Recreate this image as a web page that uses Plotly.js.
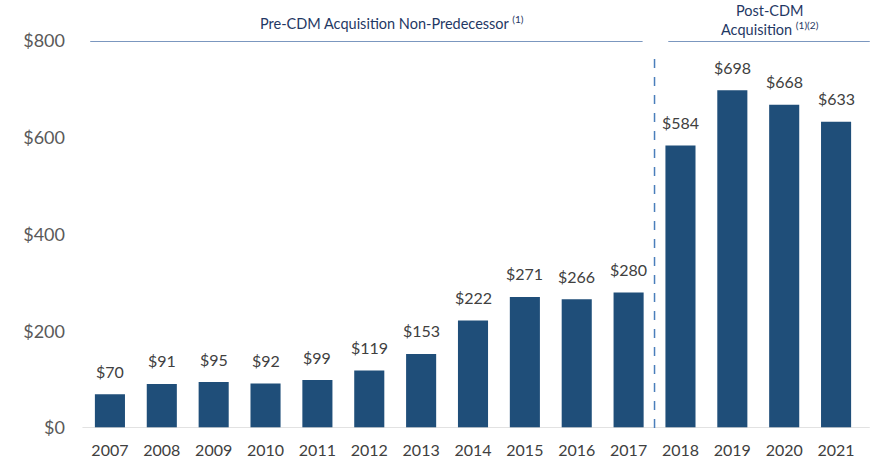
<!DOCTYPE html>
<html><head><meta charset="utf-8">
<script src="https://cdn.plot.ly/plotly-3.0.1.min.js"></script>
<style>body{margin:0;background:#fff}#c{width:875px;height:459px}</style>
</head><body><div id="c"></div>
<script>
const years = ["2007","2008","2009","2010","2011","2012","2013","2014","2015","2016","2017","2018","2019","2020","2021"];
const values = [70,91,95,92,99,119,153,222,271,266,280,584,698,668,633];
const yTicks = [0,200,400,600,800];
const yTickText = ["$0","$200","$400","$600","$800"];

const font = "Lato, 'Liberation Sans', sans-serif";
const trace = {
  type:'bar', x: years, y: values,
  marker:{color:'#1f4e79'},
  width:0.58,
  hoverinfo:'none'
};
const labelAnns = years.map((yr,i)=>({
  xref:'x', yref:'y', x:i, y:values[i], xanchor:'center', yanchor:'middle', yshift:23, showarrow:false,
  text:'$'+values[i], font:{family:font,size:16,color:'#404040'}
}));
const layout = {
  width:875, height:459,
  margin:{l:84,r:13,t:41,b:31},
  paper_bgcolor:'#fff', plot_bgcolor:'#fff',
  showlegend:false,
  bargap:0.42,
  xaxis:{type:'category', categoryorder:'array', categoryarray:years, range:[-0.5,14.5],
    showgrid:false, zeroline:false, showline:false, ticks:'',
    ticklabelstandoff:11,
    tickfont:{family:font,size:16,color:'#404040'}},
  yaxis:{range:[0,800], tickvals:yTicks, ticktext:yTickText, showgrid:false, zeroline:false, showline:false,
    ticks:'', ticklabelstandoff:18, tickfont:{family:font,size:18,color:'#595959'}},
  shapes:[
    {type:'line', xref:'paper', yref:'y', x0:-0.002, x1:1.01, y0:0, y1:0, line:{color:'#d9d9d9',width:1.5}},
    {type:'line', xref:'paper', yref:'y', x0:0.008, x1:0.718, y0:800, y1:800, line:{color:'#4f74aa',width:1.5}},
    {type:'line', xref:'paper', yref:'y', x0:0.751, x1:1.01, y0:800, y1:800, line:{color:'#4f74aa',width:1.5}},
    {type:'line', xref:'x', yref:'paper', x0:10.5, x1:10.5, y0:0, y1:0.965, line:{color:'#4a7ebb',width:1.5,dash:'dash'}}
  ],
  annotations:[
    {xref:'paper', yref:'paper', x:0.396, y:1.047, xanchor:'center', yanchor:'middle', showarrow:false,
     text:'Pre-CDM Acquisition Non-Predecessor <sup>(1)</sup>', font:{family:font,size:14.5,color:'#1f3864'}},
    {xref:'paper', yref:'paper', x:0.882, y:1.054, xanchor:'center', yanchor:'middle', showarrow:false, align:'center',
     text:'Post-CDM<br>Acquisition <sup>(1)(2)</sup>', font:{family:font,size:14.5,color:'#1f3864'}}
  ].concat(labelAnns)
};
Plotly.newPlot('c',[trace],layout,{displayModeBar:false,staticPlot:true});
</script></body></html>
